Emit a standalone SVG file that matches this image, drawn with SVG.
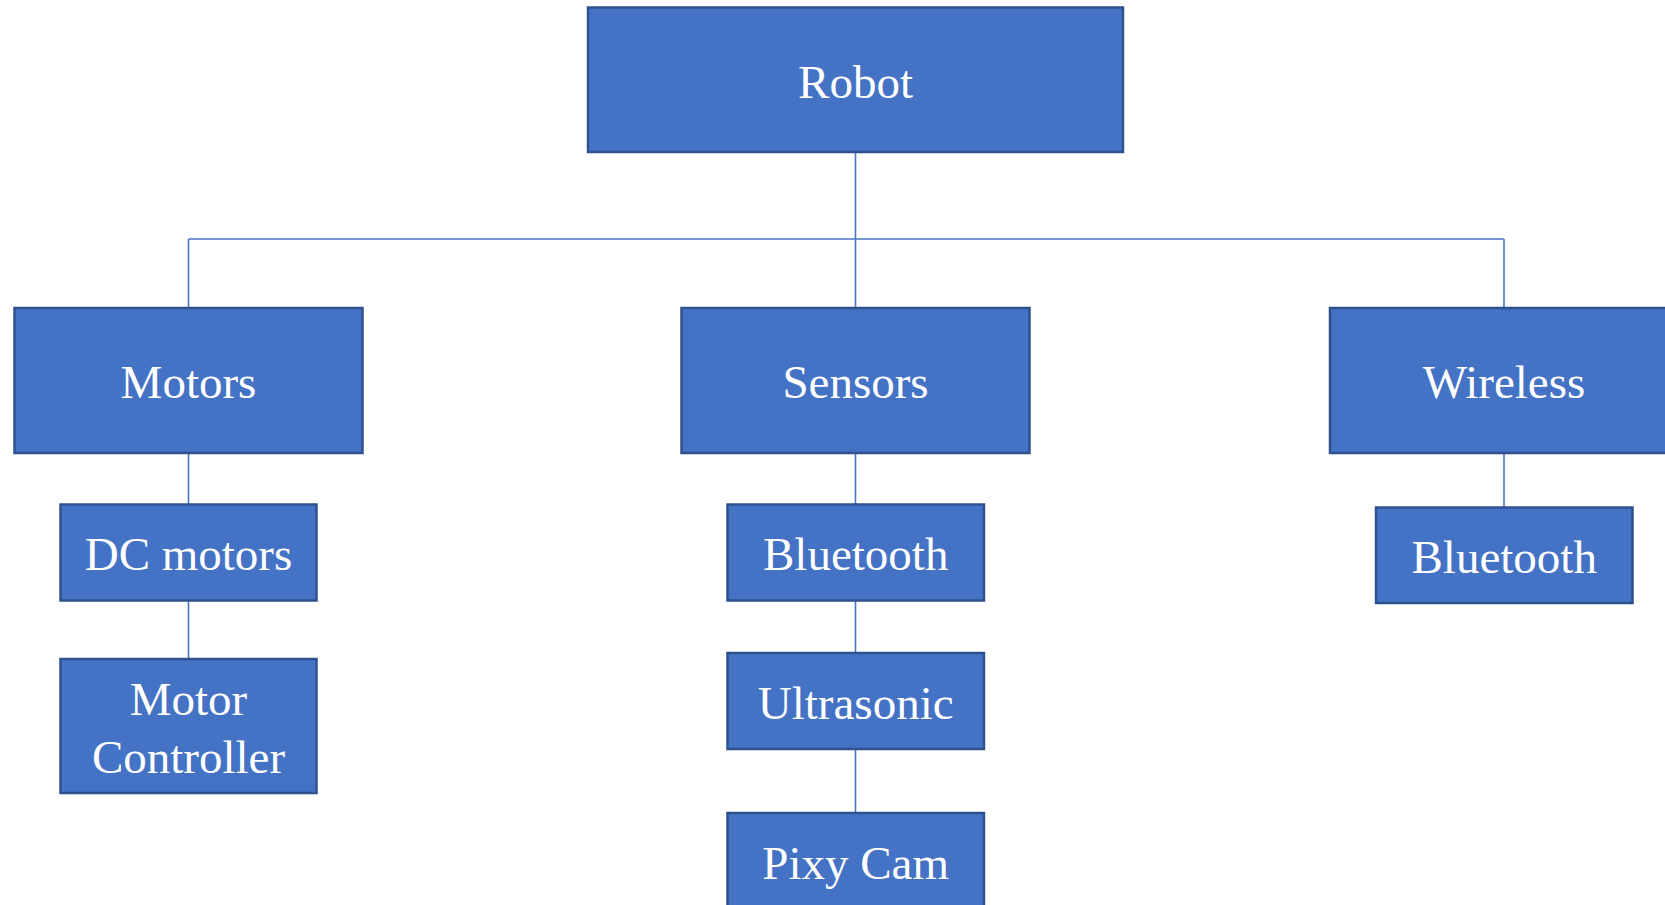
<svg xmlns="http://www.w3.org/2000/svg" width="1665" height="905" viewBox="0 0 1665 905">
<style>
.box{fill:#4472C4;stroke:#2F528F;stroke-width:2.5}
.lbl{font-family:"Liberation Serif","Times New Roman",serif;font-size:47px;fill:#FFFFFF;text-anchor:middle}
.con{stroke:#4A76C6;stroke-width:1.6;fill:none}
</style>
<rect width="1665" height="905" fill="#FFFFFF"/>
<g id="connectors">
<path class="con" d="M855.5 152V239M188.5 239H1504M188.5 239V308M855.5 239V308M1504 239V308"/>
<path class="con" d="M188.5 453V504M188.5 600.5V659"/>
<path class="con" d="M855.5 453V504M855.5 600.5V653M855.5 749V813"/>
<path class="con" d="M1504 453V507"/>
</g>
<g id="robot"><rect class="box" x="588" y="7.5" width="535" height="144.5"/><text class="lbl" x="855.5" y="97.5">Robot</text></g>
<g id="motors"><rect class="box" x="14.5" y="308" width="348" height="145"/><text class="lbl" x="188.5" y="398">Motors</text></g>
<g id="sensors"><rect class="box" x="681.5" y="308" width="348" height="145"/><text class="lbl" x="855.5" y="398">Sensors</text></g>
<g id="wireless"><rect class="box" x="1330" y="308" width="349" height="145"/><text class="lbl" x="1504" y="398">Wireless</text></g>
<g id="dc-motors"><rect class="box" x="60.5" y="504.5" width="256" height="96"/><text class="lbl" x="188.5" y="570">DC motors</text></g>
<g id="motor-controller"><rect class="box" x="60.5" y="659" width="256" height="134"/><text class="lbl" x="188.5" y="715">Motor</text><text class="lbl" x="188.5" y="772.5">Controller</text></g>
<g id="bluetooth-sensors"><rect class="box" x="727.5" y="504.5" width="256.5" height="96"/><text class="lbl" x="855.7" y="570">Bluetooth</text></g>
<g id="ultrasonic"><rect class="box" x="727.5" y="653" width="256.5" height="96"/><text class="lbl" x="855.7" y="719">Ultrasonic</text></g>
<g id="pixy-cam"><rect class="box" x="727.5" y="813" width="256.5" height="96"/><text class="lbl" x="855.7" y="879">Pixy Cam</text></g>
<g id="bluetooth-wireless"><rect class="box" x="1376" y="507.5" width="256.5" height="95.5"/><text class="lbl" x="1504.2" y="573">Bluetooth</text></g>
</svg>
